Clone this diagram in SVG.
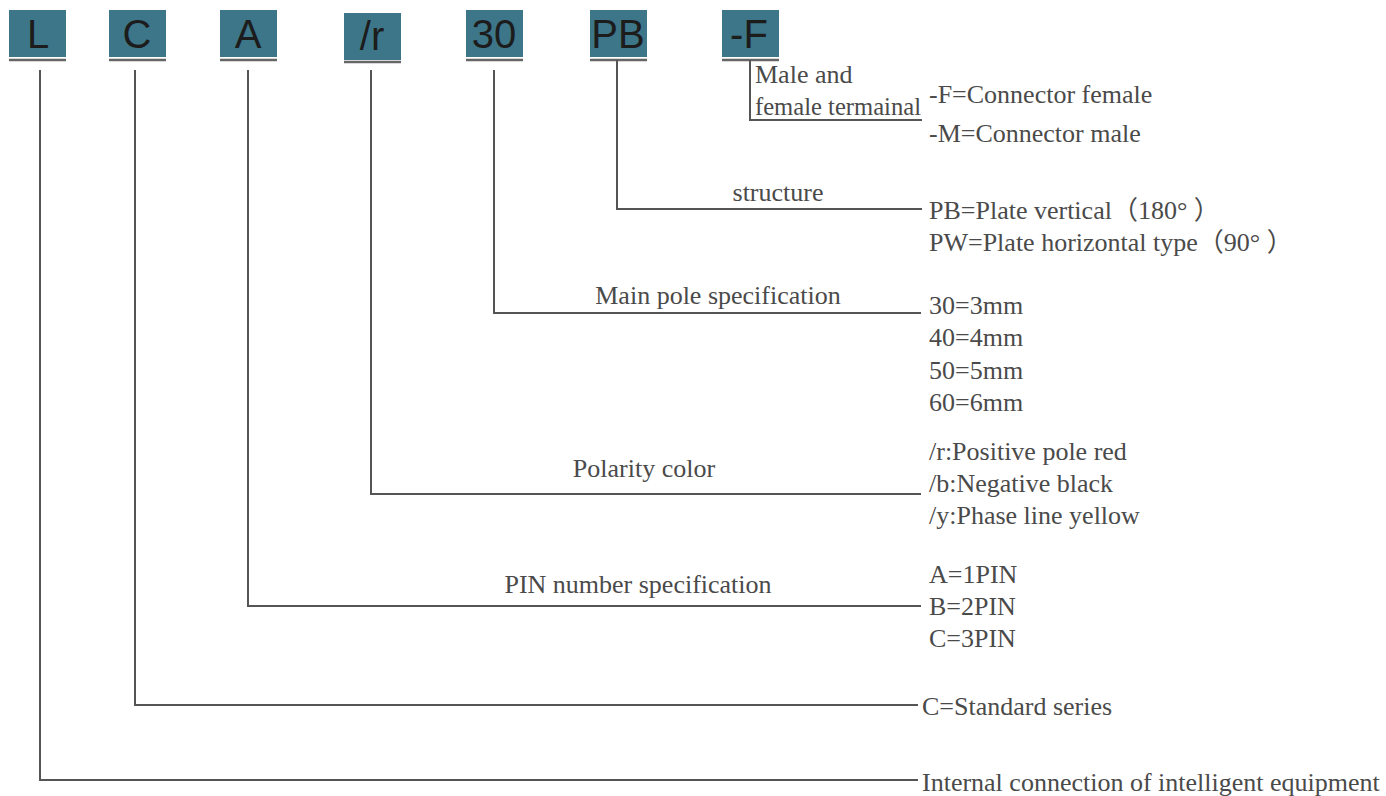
<svg xmlns="http://www.w3.org/2000/svg" width="1386" height="796" viewBox="0 0 1386 796">
<style>
.box{fill:#3d7688;}
.ul{stroke:#666;stroke-width:2.5;}
.code{font-family:"Liberation Sans",Arial,sans-serif;font-size:40px;fill:#1c1c1c;text-anchor:middle;}
.ln{fill:none;stroke:#555;stroke-width:2;}
.t{font-family:"Liberation Serif","Times New Roman","Noto Sans CJK SC",serif;font-size:26px;fill:#4a4a4a;}
.m{text-anchor:middle;}
</style>
<rect width="1386" height="796" fill="#fff"/>
<g id="node-L"><rect class="box" x="9" y="10" width="57" height="47"/><line class="ul" x1="9" y1="60" x2="66" y2="60"/><text class="code" x="38" y="48">L</text></g>
<g id="node-C"><rect class="box" x="109" y="10" width="57" height="47"/><line class="ul" x1="109" y1="60" x2="166" y2="60"/><text class="code" x="137" y="48">C</text></g>
<g id="node-A"><rect class="box" x="220" y="10" width="57" height="47"/><line class="ul" x1="220" y1="60" x2="277" y2="60"/><text class="code" x="248" y="48">A</text></g>
<g id="node-r"><rect class="box" x="344" y="13" width="57" height="47"/><line class="ul" x1="344" y1="62" x2="401" y2="62"/><text class="code" x="372" y="50">/r</text></g>
<g id="node-30"><rect class="box" x="466" y="10" width="57" height="47"/><line class="ul" x1="466" y1="60" x2="523" y2="60"/><text class="code" x="494" y="48">30</text></g>
<g id="node-PB"><rect class="box" x="590" y="10" width="57" height="47"/><line class="ul" x1="590" y1="60" x2="647" y2="60"/><text class="code" x="618" y="48">PB</text></g>
<g id="node-F"><rect class="box" x="722" y="10" width="57" height="47"/><line class="ul" x1="722" y1="60" x2="779" y2="60"/><text class="code" x="749" y="48">-F</text></g>
<g id="connectors">
<polyline class="ln" points="750,60 750,120 922,120"/>
<polyline class="ln" points="617,60 617,209 922,209"/>
<polyline class="ln" points="494,70 494,313 921,313"/>
<polyline class="ln" points="371,70 371,494 921,494"/>
<polyline class="ln" points="248,70 248,606 921,606"/>
<polyline class="ln" points="135,70 135,705 918,705"/>
<polyline class="ln" points="40,70 40,780 918,780"/>
</g>
<g id="labels">
<text class="t" x="755" y="83">Male and</text>
<text class="t" x="755" y="115" textLength="166" lengthAdjust="spacingAndGlyphs">female termainal</text>
<text class="t m" x="778" y="201">structure</text>
<text class="t m" x="718" y="304">Main pole specification</text>
<text class="t m" x="644" y="477">Polarity color</text>
<text class="t m" x="638" y="593">PIN number specification</text>
</g>
<g id="values">
<text class="t" x="929" y="103">-F=Connector female</text>
<text class="t" x="929" y="142">-M=Connector male</text>
<text class="t" x="929" y="219">PB=Plate vertical（180° ）</text>
<text class="t" x="929" y="251">PW=Plate horizontal type（90° ）</text>
<text class="t" x="929" y="314">30=3mm</text>
<text class="t" x="929" y="346">40=4mm</text>
<text class="t" x="929" y="379">50=5mm</text>
<text class="t" x="929" y="411">60=6mm</text>
<text class="t" x="929" y="460">/r:Positive pole red</text>
<text class="t" x="929" y="492">/b:Negative black</text>
<text class="t" x="929" y="524">/y:Phase line yellow</text>
<text class="t" x="929" y="583">A=1PIN</text>
<text class="t" x="929" y="615">B=2PIN</text>
<text class="t" x="929" y="647">C=3PIN</text>
<text class="t" x="922" y="715">C=Standard series</text>
<text class="t" x="922" y="791">Internal connection of intelligent equipment</text>
</g>
</svg>
